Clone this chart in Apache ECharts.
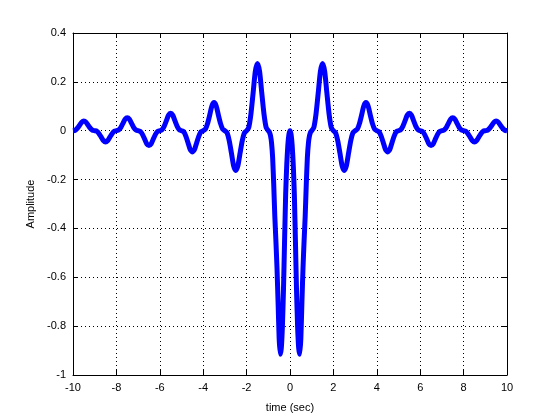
<!DOCTYPE html>
<html>
<head>
<meta charset="utf-8">
<script src="https://cdn.jsdelivr.net/npm/echarts@6/dist/echarts.min.js"></script>
<style>
html,body{margin:0;padding:0;background:#fff;}
#chart{width:560px;height:420px;}
</style>
</head>
<body>
<div id="chart"></div>
<script>
const time = [
-10.0,-9.9,-9.8,-9.7,-9.6,-9.5,-9.4,-9.3,-9.2,-9.1,
-9.0,-8.9,-8.8,-8.7,-8.6,-8.5,-8.4,-8.3,-8.2,-8.1,
-8.0,-7.9,-7.8,-7.7,-7.6,-7.5,-7.4,-7.3,-7.2,-7.1,
-7.0,-6.9,-6.8,-6.7,-6.6,-6.5,-6.4,-6.3,-6.2,-6.1,
-6.0,-5.9,-5.8,-5.7,-5.6,-5.5,-5.4,-5.3,-5.2,-5.1,
-5.0,-4.9,-4.8,-4.7,-4.6,-4.5,-4.4,-4.3,-4.2,-4.1,
-4.0,-3.9,-3.8,-3.7,-3.6,-3.5,-3.4,-3.3,-3.2,-3.1,
-3.0,-2.9,-2.8,-2.7,-2.6,-2.5,-2.4,-2.3,-2.2,-2.1,
-2.0,-1.9,-1.8,-1.7,-1.6,-1.5,-1.4,-1.3,-1.2,-1.1,
-1.00,-0.95,-0.90,-0.85,-0.80,-0.75,-0.70,-0.65,-0.60,-0.55,
-0.50,-0.45,-0.40,-0.35,-0.30,-0.25,-0.20,-0.15,-0.10,-0.05,
0.00,
0.05,0.10,0.15,0.20,0.25,0.30,0.35,0.40,0.45,0.50,
0.55,0.60,0.65,0.70,0.75,0.80,0.85,0.90,0.95,1.00,
1.1,1.2,1.3,1.4,1.5,1.6,1.7,1.8,1.9,2.0,
2.1,2.2,2.3,2.4,2.5,2.6,2.7,2.8,2.9,3.0,
3.1,3.2,3.3,3.4,3.5,3.6,3.7,3.8,3.9,4.0,
4.1,4.2,4.3,4.4,4.5,4.6,4.7,4.8,4.9,5.0,
5.1,5.2,5.3,5.4,5.5,5.6,5.7,5.8,5.9,6.0,
6.1,6.2,6.3,6.4,6.5,6.6,6.7,6.8,6.9,7.0,
7.1,7.2,7.3,7.4,7.5,7.6,7.7,7.8,7.9,8.0,
8.1,8.2,8.3,8.4,8.5,8.6,8.7,8.8,8.9,9.0,
9.1,9.2,9.3,9.4,9.5,9.6,9.7,9.8,9.9,10.0
];
const amplitude = [
0,0.002,0.010,0.022,0.035,0.040,0.035,0.022,0.010,0.002,
0,-0.002,-0.012,-0.026,-0.040,-0.046,-0.040,-0.026,-0.012,-0.002,
0,0.003,0.013,0.030,0.047,0.053,0.047,0.030,0.013,0.003,
0,-0.003,-0.015,-0.034,-0.054,-0.061,-0.054,-0.034,-0.015,-0.003,
0,0.004,0.018,0.040,0.063,0.072,0.063,0.040,0.018,0.004,
0,-0.004,-0.022,-0.049,-0.077,-0.087,-0.077,-0.049,-0.022,-0.004,
0,0.006,0.029,0.064,0.101,0.115,0.101,0.064,0.029,0.006,
0,-0.008,-0.041,-0.091,-0.143,-0.163,-0.143,-0.091,-0.041,-0.008,
0,0.014,0.069,0.154,0.242,0.275,0.242,0.154,0.069,0.014,
0,-0.005,-0.02,-0.05,-0.11,-0.22,-0.35,-0.45,-0.56,-0.70,
-0.85,-0.915,-0.89,-0.80,-0.65,-0.45,-0.26,-0.14,-0.06,-0.015,
0,
-0.015,-0.06,-0.14,-0.26,-0.45,-0.65,-0.80,-0.89,-0.915,-0.85,
-0.70,-0.56,-0.45,-0.35,-0.22,-0.11,-0.05,-0.02,-0.005,0,
0.014,0.069,0.154,0.242,0.275,0.242,0.154,0.069,0.014,0,
-0.008,-0.041,-0.091,-0.143,-0.163,-0.143,-0.091,-0.041,-0.008,0,
0.006,0.029,0.064,0.101,0.115,0.101,0.064,0.029,0.006,0,
-0.004,-0.022,-0.049,-0.077,-0.087,-0.077,-0.049,-0.022,-0.004,0,
0.004,0.018,0.040,0.063,0.072,0.063,0.040,0.018,0.004,0,
-0.003,-0.015,-0.034,-0.054,-0.061,-0.054,-0.034,-0.015,-0.003,0,
0.003,0.013,0.030,0.047,0.053,0.047,0.030,0.013,0.003,0,
-0.002,-0.012,-0.026,-0.040,-0.046,-0.040,-0.026,-0.012,-0.002,0,
0.002,0.010,0.022,0.035,0.040,0.035,0.022,0.010,0.002,0
];
const xTitle = 'time (sec)';
const yTitle = 'Amplitude';

const points = time.map((t, i) => [t, amplitude[i]]);
const fontFamily = "'Liberation Sans', Arial, sans-serif";
const dotted = { show: true, lineStyle: { color: '#000', width: 1, type: [1, 3] } };
const axisBase = {
  axisLine: { show: true, onZero: false, lineStyle: { color: '#000', width: 1 } },
  axisTick: { show: true, inside: true, length: 5, lineStyle: { color: '#000' } }
};

const chart = echarts.init(document.getElementById('chart'), null, { renderer: 'canvas' });
chart.setOption({
  animation: false,
  backgroundColor: '#fff',
  grid: { left: 73, right: 53, top: 33, bottom: 45, show: false },
  xAxis: [
    Object.assign({
      type: 'value', min: -10, max: 10, interval: 2, position: 'bottom',
      name: xTitle, nameLocation: 'middle', nameGap: 27,
      nameTextStyle: { color: '#000', fontSize: 11, fontFamily: fontFamily },
      axisLabel: { color: '#000', fontSize: 11, fontFamily: fontFamily, margin: 7 },
      splitLine: dotted
    }, axisBase),
    Object.assign({
      type: 'value', min: -10, max: 10, interval: 2, position: 'top',
      axisLabel: { show: false }, splitLine: { show: false }
    }, axisBase)
  ],
  yAxis: [
    Object.assign({
      type: 'value', min: -1, max: 0.4, interval: 0.2, position: 'left',
      name: yTitle, nameLocation: 'middle', nameGap: 33, nameRotate: 90,
      nameTextStyle: { color: '#000', fontSize: 11, fontFamily: fontFamily },
      axisLabel: { color: '#000', fontSize: 11, fontFamily: fontFamily, margin: 7 },
      splitLine: dotted
    }, axisBase),
    Object.assign({
      type: 'value', min: -1, max: 0.4, interval: 0.2, position: 'right',
      axisLabel: { show: false }, splitLine: { show: false }
    }, axisBase)
  ],
  series: [{
    type: 'line',
    data: points,
    xAxisIndex: 0, yAxisIndex: 0,
    showSymbol: false,
    smooth: 0.2,
    lineStyle: { color: '#0000ff', width: 5, join: 'round' },
    silent: true
  }]
});
</script>
</body>
</html>
